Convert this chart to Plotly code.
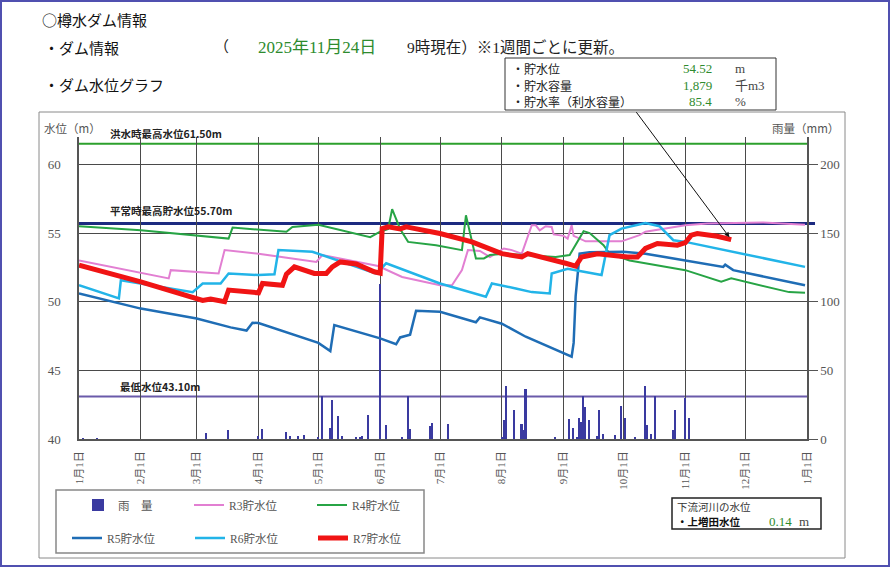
import plotly.graph_objects as go

YEAR = "2025-"

month_starts = ["2025-01-01", "2025-02-01", "2025-03-01", "2025-04-01", "2025-05-01",
                "2025-06-01", "2025-07-01", "2025-08-01", "2025-09-01", "2025-10-01",
                "2025-11-01", "2025-12-01", "2026-01-01"]
month_labels = ["1月1日", "2月1日", "3月1日", "4月1日", "5月1日", "6月1日", "7月1日",
                "8月1日", "9月1日", "10月1日", "11月1日", "12月1日", "1月1日"]

# rainfall (mm)
rain_dates = ["01-03", "01-10", "03-06", "03-17", "04-01", "04-03", "04-15", "04-17", "04-21",
              "04-24", "05-01", "05-03", "05-07", "05-08", "05-11", "05-13", "05-20", "05-22",
              "05-23", "05-26", "06-01", "06-04", "06-12", "06-15", "06-16", "06-26", "06-27",
              "07-05", "08-01", "08-02", "08-03", "08-07", "08-11", "08-12", "08-13", "08-28",
              "09-04", "09-06", "09-08", "09-09", "09-10", "09-11", "09-12", "09-14", "09-18",
              "09-19", "09-21", "09-27", "09-30", "10-02", "10-07", "10-12", "10-13", "10-15",
              "10-17", "10-26", "10-27", "11-01", "11-03"]
rain_mm = [0.5, 0.5, 4.4, 6.3, 2.0, 7.3, 5.1, 2.5, 2.0,
           3.0, 1.5, 31.0, 8.0, 28.6, 16.5, 2.0, 1.0, 1.5,
           2.0, 17.7, 113.0, 9.9, 1.5, 31.0, 7.0, 9.2, 12.0,
           11.1, 1.5, 13.6, 38.8, 21.3, 11.0, 6.6, 36.4, 1.0,
           14.5, 8.0, 1.5, 15.3, 12.5, 31.5, 23.3, 13.6, 2.5,
           21.3, 4.0, 3.0, 24.2, 15.3, 1.0, 38.8, 10.0, 4.0,
           31.5, 6.8, 21.3, 29.8, 15.3]

# stored water level (m) per year
r3_dates = ["01-01", "02-15", "02-16", "03-12", "03-15", "04-01", "04-30", "05-03", "05-31",
            "06-12", "07-01", "07-07", "07-12", "07-15", "07-21", "07-26", "08-02", "08-06",
            "08-11", "08-16", "08-18", "08-20", "08-23", "08-26", "08-27", "09-01", "09-03",
            "09-05", "09-06", "09-09", "09-12", "09-30", "10-09", "10-12", "10-26", "11-01",
            "11-12", "12-10", "12-31"]
r3_level = [53.00, 51.70, 52.30, 52.06, 53.76, 53.50, 52.90, 53.40, 52.60,
            51.80, 51.20, 51.20, 52.30, 53.76, 53.70, 53.26, 53.88, 53.76,
            53.50, 55.57, 55.57, 55.20, 55.50, 55.45, 54.90, 54.80, 54.60,
            55.57, 54.80, 54.60, 54.40, 54.40, 54.85, 55.10, 55.45, 55.57,
            55.70, 55.78, 55.60]

r4_dates = ["01-01", "02-01", "03-17", "03-19", "04-15", "04-18", "05-01", "05-27", "06-01",
            "06-05", "06-07", "06-11", "06-15", "06-29", "07-12", "07-14", "07-19", "07-23",
            "07-26", "08-02", "08-28", "09-04", "09-11", "09-14", "09-21", "09-24", "10-04",
            "11-01", "11-19", "11-24", "12-23", "12-31"]
r4_level = [55.50, 55.20, 54.60, 55.40, 55.10, 55.45, 55.60, 54.70, 55.10,
            55.30, 56.74, 55.30, 54.36, 54.12, 53.76, 56.30, 53.15, 53.15,
            53.40, 53.50, 53.26, 53.40, 55.14, 55.00, 54.12, 53.50, 53.00,
            52.30, 51.45, 51.70, 50.70, 50.65]

r5_dates = ["01-01", "02-01", "03-01", "03-18", "03-26", "03-29", "04-01", "05-01", "05-07",
            "05-09", "06-01", "06-09", "06-11", "06-16", "06-19", "07-01", "07-19", "07-21",
            "08-01", "08-13", "09-05", "09-06", "09-07", "09-09", "09-14", "10-01", "10-12",
            "11-20", "11-21", "11-25", "12-31"]
r5_level = [50.60, 49.50, 48.78, 48.13, 47.90, 48.47, 48.45, 47.00, 46.40,
            48.30, 47.33, 46.90, 47.40, 47.60, 49.34, 49.27, 48.50, 48.86,
            48.40, 47.45, 46.00, 47.00, 50.40, 53.50, 53.60, 53.64, 53.50,
            52.54, 52.70, 52.30, 51.20]

r6_dates = ["01-01", "01-21", "01-22", "02-27", "03-04", "03-13", "03-17", "04-01", "04-09",
            "04-11", "04-28", "05-30", "06-04", "07-01", "07-24", "07-27", "08-08", "08-16",
            "08-25", "08-26", "09-03", "09-20", "09-22", "09-24", "09-30", "10-12", "10-19",
            "10-26", "11-01", "12-31"]
r6_level = [51.20, 50.24, 51.57, 50.70, 51.33, 51.33, 52.06, 51.94, 52.00,
            53.76, 53.64, 52.06, 52.80, 51.33, 50.36, 51.33, 50.97, 50.70,
            50.60, 52.06, 52.40, 51.94, 53.40, 54.85, 55.33, 55.74, 55.50,
            54.48, 54.36, 52.54]

r7_dates = ["01-01", "02-01", "03-04", "03-08", "03-15", "03-17", "04-01", "04-03", "04-13",
            "04-15", "04-19", "04-29", "05-05", "05-08", "05-12", "05-20", "05-29", "06-01",
            "06-02", "06-05", "06-11", "06-14", "06-16", "07-01", "07-17", "08-01", "08-11",
            "08-14", "09-02", "09-07", "09-10", "09-18", "10-03", "10-08", "10-12", "10-18",
            "10-28", "11-01", "11-04", "11-07", "11-17", "11-24"]
r7_level = [52.66, 51.45, 50.10, 50.20, 50.00, 50.85, 50.65, 51.33, 51.20,
            52.00, 52.54, 52.06, 52.06, 52.54, 52.90, 52.75, 52.18, 52.08,
            55.33, 55.45, 55.30, 55.45, 55.40, 54.97, 54.36, 53.50, 53.26,
            53.50, 52.80, 52.60, 53.26, 53.50, 53.26, 53.26, 53.88, 54.24,
            54.12, 54.30, 54.85, 54.97, 54.77, 54.52]

flood_level = 61.50
normal_level = 55.70
min_level = 43.10

SANS = "Noto Sans CJK JP"
MINCHO = "Liberation Serif, Noto Sans CJK JP"


def full(dates):
    return [YEAR + d for d in dates]


def px(x):   # page pixel -> paper x
    return (x - 79) / 728


def py(y):   # page pixel -> paper y
    return (439 - y) / 302


fig = go.Figure()

fig.add_trace(go.Bar(x=full(rain_dates), y=rain_mm, yaxis="y", name="雨　量",
                     marker=dict(color="#3a3aa0", line=dict(width=0)),
                     width=0.8 * 86400000, legend="legend3"))

series = [
    ("R3貯水位", r3_dates, r3_level, "#e27fd2", 2, "legend"),
    ("R4貯水位", r4_dates, r4_level, "#27a445", 2, "legend"),
    ("R5貯水位", r5_dates, r5_level, "#1f6db5", 2.5, "legend2"),
    ("R6貯水位", r6_dates, r6_level, "#22b4e8", 2.5, "legend2"),
    ("R7貯水位", r7_dates, r7_level, "#f01414", 5, "legend2"),
]
for name, d, v, color, w, lg in series:
    fig.add_trace(go.Scatter(x=full(d), y=v, yaxis="y2", mode="lines", name=name,
                             line=dict(color=color, width=w), legend=lg))

shapes = [
    dict(type="line", xref="paper", yref="y2", x0=0, x1=1, y0=flood_level, y1=flood_level,
         line=dict(color="#2ca02c", width=2), layer="below"),
    dict(type="line", xref="paper", yref="y2", x0=0, x1=1.011, y0=normal_level, y1=normal_level,
         line=dict(color="#1c2a80", width=3), layer="below"),
    dict(type="line", xref="paper", yref="y2", x0=0, x1=1, y0=min_level, y1=min_level,
         line=dict(color="#6a5aaa", width=2), layer="below"),
    # frames
    dict(type="rect", xref="paper", yref="paper", x0=px(1), x1=px(889), y0=py(566), y1=py(1),
         line=dict(color="#5050b0", width=2)),
    dict(type="rect", xref="paper", yref="paper", x0=px(39), x1=px(845), y0=py(558), y1=py(112),
         line=dict(color="#8a8a8a", width=1)),
    dict(type="rect", xref="paper", yref="paper", x0=px(505), x1=px(776), y0=py(110), y1=py(58),
         line=dict(color="#333", width=1), fillcolor="white"),
    dict(type="rect", xref="paper", yref="paper", x0=px(56), x1=px(424), y0=py(553), y1=py(490),
         line=dict(color="#888", width=1.5)),
    dict(type="rect", xref="paper", yref="paper", x0=px(672), x1=px(821), y0=py(529), y1=py(498),
         line=dict(color="#222", width=1.5)),
]


def txt(x, y, s, size=12, color="#222", family=SANS, anchor="left"):
    return dict(xref="paper", yref="paper", x=px(x), y=py(y), text=s, showarrow=False,
                xanchor=anchor, yanchor="middle", font=dict(size=size, color=color, family=family))


green = "#2e8b2e"
annotations = [
    txt(40, 20, "○樽水ダム情報", 15, "#111"),
    txt(42, 47, "・ダム情報", 15, "#111"),
    txt(212, 47, "（", 15, "#222", MINCHO),
    txt(256, 47, "2025年11月24日", 17, green, MINCHO),
    txt(405, 47, "9時現在）※1週間ごとに更新。", 15.5, "#222", MINCHO),
    txt(42, 84, "・ダム水位グラフ", 15, "#111"),
    txt(510, 68, "・貯水位", 12, "#222"),
    txt(510, 85, "・貯水容量", 12, "#222"),
    txt(510, 101, "・貯水率（利水容量）", 12, "#222"),
    txt(714, 68, "54.52", 13, green, MINCHO, "right"),
    txt(714, 85, "1,879", 13, green, MINCHO, "right"),
    txt(714, 101, "85.4", 13, green, MINCHO, "right"),
    txt(733, 68, "m", 13, "#444", MINCHO),
    txt(733, 85, "千m3", 13, "#444", MINCHO),
    txt(733, 101, "%", 13, "#444", MINCHO),
    txt(42, 128, "水位（m）", 11.5, "#555"),
    txt(841, 128, "雨量（mm）", 11.5, "#555", SANS, "right"),
    txt(675, 506, "下流河川の水位", 10.5, "#333"),
    txt(675, 521, "<b>・上増田水位</b>", 10.5, "#111"),
    txt(767, 521, "0.14", 13, green, MINCHO),
    txt(797, 521, "m", 13, "#444", MINCHO),
    dict(xref="paper", yref="y2", x=px(108), y=flood_level, yshift=10, text="<b>洪水時最高水位61.50m</b>",
         showarrow=False, xanchor="left", yanchor="middle", font=dict(size=10.5, color="#222", family=SANS)),
    dict(xref="paper", yref="y2", x=px(108), y=normal_level, yshift=13, text="<b>平常時最高貯水位55.70m</b>",
         showarrow=False, xanchor="left", yanchor="middle", font=dict(size=10.5, color="#222", family=SANS)),
    dict(xref="paper", yref="y2", x=px(118), y=min_level, yshift=10, text="<b>最低水位43.10m</b>",
         showarrow=False, xanchor="left", yanchor="middle", font=dict(size=10.5, color="#222", family=SANS)),
    # arrow from info box to current level
    dict(xref="x", yref="y2", x=full(r7_dates)[-1], y=r7_level[-1], text="", showarrow=True,
         ax=-96, ay=-129, arrowhead=2, arrowsize=1, arrowwidth=1, arrowcolor="#111", standoff=3),
]

legend_style = dict(orientation="h", xanchor="left", yanchor="middle", entrywidth=78,
                    entrywidthmode="pixels", itemwidth=30, bgcolor="rgba(0,0,0,0)",
                    font=dict(size=11.5, color="#555", family=MINCHO))

fig.update_layout(
    width=891, height=568,
    margin=dict(l=79, r=84, t=137, b=129),
    paper_bgcolor="white", plot_bgcolor="white",
    bargap=0, showlegend=True,
    legend3=dict(legend_style, x=px(78), y=py(505)),
    legend=dict(legend_style, x=px(189), y=py(505)),
    legend2=dict(legend_style, x=px(67), y=py(538)),
    xaxis=dict(type="date", range=["2025-01-01", "2026-01-01"], tickvals=month_starts,
               ticktext=month_labels, tickangle=-90, showgrid=True, gridcolor="#4a4a4a",
               gridwidth=1, showline=True, linecolor="#555", linewidth=1.5, ticks="",
               ticklabelstandoff=6, tickfont=dict(size=11, color="#555", family=MINCHO)),
    yaxis=dict(side="right", range=[0, 220], tickvals=[0, 50, 100, 150, 200], showgrid=True,
               gridcolor="#4a4a4a", gridwidth=1, showline=True, linecolor="#555", linewidth=1.5,
               ticks="outside", ticklen=9, tickcolor="#555", zeroline=False,
               tickfont=dict(size=13, color="#555", family=MINCHO)),
    yaxis2=dict(overlaying="y", side="left", range=[40, 62], tickvals=[40, 45, 50, 55, 60],
                showgrid=False, showline=True, linecolor="#555", linewidth=1.5, ticks="",
                zeroline=False, ticklabelstandoff=14,
                tickfont=dict(size=13, color="#555", family=MINCHO)),
    shapes=shapes,
    annotations=annotations,
)

# the page body has a default 8px margin; drop it so the figure sits at the window corner
fig.write_html("out.html", config={"displayModeBar": False},
               post_script="document.body.style.margin='0';")
